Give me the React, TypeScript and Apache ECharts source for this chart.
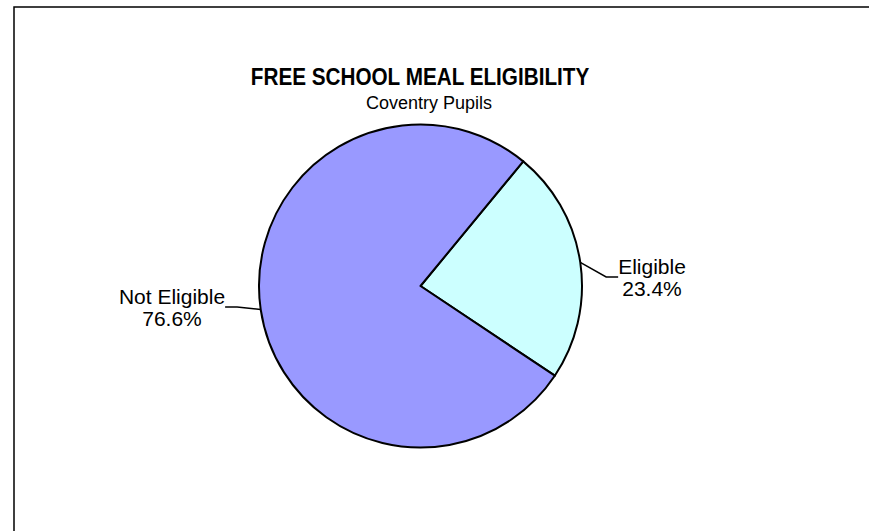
import React, { useEffect, useRef } from "react";
import * as echarts from "echarts";

const titleText = "FREE SCHOOL MEAL ELIGIBILITY";
const subtitleText = "Coventry Pupils";
const categories = ["Eligible", "Not Eligible"];
const percentages = [23.4, 76.6];
const sliceColors = ["#CCFFFF", "#9999FF"];

const labelPos: Record<string, [number, number]> = {
  "Eligible": [652, 277],
  "Not Eligible": [172, 307],
};

export default function App() {
  const ref = useRef<HTMLDivElement>(null);
  useEffect(() => {
    if (!ref.current) return;
    const chart = echarts.init(ref.current, null, { renderer: "svg" });
    const font = "Arial, 'Liberation Sans', sans-serif";
    chart.setOption({
      animation: false,
      backgroundColor: "#ffffff",
      graphic: [
        {
          type: "rect",
          shape: { x: 14, y: 7, width: 900, height: 600 },
          style: { fill: "none", stroke: "#000", lineWidth: 1.5 },
          silent: true,
        },
        {
          type: "text",
          x: 420,
          y: 77,
          scaleX: 0.9,
          style: {
            text: titleText,
            x: 0,
            y: 0,
            textAlign: "center",
            textVerticalAlign: "middle",
            font: `bold 23px ${font}`,
            fill: "#000",
          },
        },
        {
          type: "text",
          x: 429,
          y: 103,
          style: {
            text: subtitleText,
            x: 0,
            y: 0,
            textAlign: "center",
            textVerticalAlign: "middle",
            font: `18px ${font}`,
            fill: "#000",
          },
        },
      ],
      series: [
        {
          type: "pie",
          center: [420.5, 286],
          radius: 161.5,
          startAngle: 50.5,
          clockwise: true,
          data: categories.map((c, i) => ({
            name: c,
            value: percentages[i],
            itemStyle: { color: sliceColors[i] },
          })),
          itemStyle: { borderColor: "#000", borderWidth: 2 },
          label: {
            show: true,
            formatter: "{b}\n{c}%",
            color: "#000",
            fontSize: 21,
            fontFamily: font,
            lineHeight: 22,
            align: "center",
          },
          labelLine: {
            show: true,
            length: 10,
            length2: 12,
            lineStyle: { color: "#000", width: 1.5 },
          },
          labelLayout: (params: any) => {
            const name = categories[params.dataIndex];
            const p = labelPos[name];
            return { x: p[0], y: p[1], align: "center", verticalAlign: "middle" };
          },
          emphasis: { disabled: true },
        },
      ],
    });
    return () => chart.dispose();
  }, []);
  return (
    <div
      ref={ref}
      style={{ position: "fixed", left: 0, top: 0, width: 869, height: 531 }}
    />
  );
}
